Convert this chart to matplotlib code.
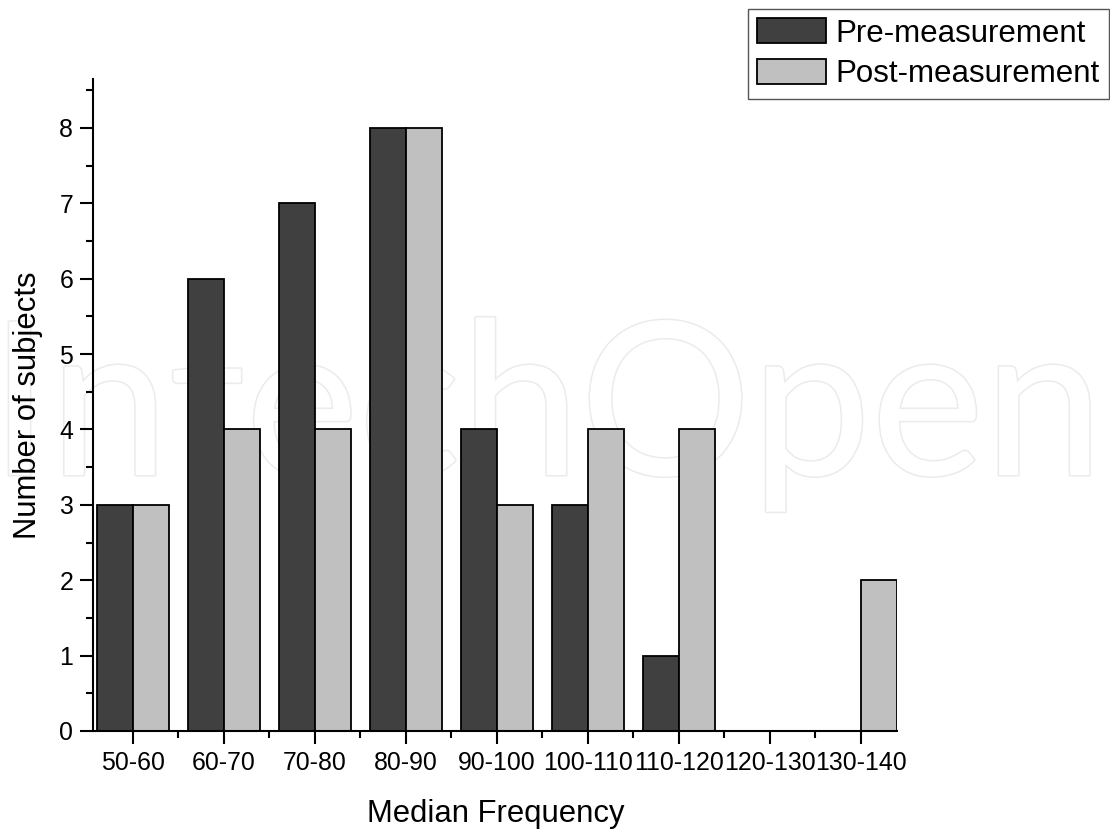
import matplotlib
matplotlib.use("Agg")
import matplotlib.pyplot as plt
import matplotlib.patheffects as pe
from matplotlib.ticker import MultipleLocator, FixedLocator
import numpy as np

plt.rcParams['font.family'] = ['Liberation Sans', 'DejaVu Sans']

categories = ["50-60", "60-70", "70-80", "80-90", "90-100", "100-110",
              "110-120", "120-130", "130-140"]
pre_values = [3, 6, 7, 8, 4, 3, 1, 0, 0]
post_values = [3, 4, 4, 8, 3, 4, 4, 0, 2]
series_labels = ["Pre-measurement", "Post-measurement"]
x_label = "Median Frequency"
y_label = "Number of subjects"
watermark = "IntechOpen"

W, H = 1110, 831
fig = plt.figure(figsize=(W / 100, H / 100), dpi=100)

# axes placement in pixels
left_px, right_px, top_px, bottom_px = 93.3, 897.4, 79, 731
ax = fig.add_axes([left_px / W, 1 - bottom_px / H,
                   (right_px - left_px) / W, (bottom_px - top_px) / H])
ax.patch.set_alpha(0)

# faint outlined watermark
fig.text(0.4925, 1 - 475 / H, watermark, fontsize=154, family=['Lato', 'DejaVu Sans'],
         weight='normal', color='white', ha='center', va='baseline', zorder=-1,
         path_effects=[pe.Stroke(linewidth=2.2, foreground='#ebebeb'), pe.Normal()])

x = np.arange(len(categories))
bw = 0.4
ax.bar(x - bw, pre_values, width=bw, align='edge', color='#404040', edgecolor='black',
       linewidth=1.3, label=series_labels[0])
ax.bar(x, post_values, width=bw, align='edge', color='#c0c0c0', edgecolor='black',
       linewidth=1.3, label=series_labels[1])

ax.set_xlim(-0.436, 8.4)
ax.set_ylim(0, 8.65)

for s in ['top', 'right']:
    ax.spines[s].set_visible(False)
for s in ['left', 'bottom']:
    ax.spines[s].set_linewidth(1.5)

ax.set_xticks(x)
ax.set_xticklabels(categories)
ax.xaxis.set_minor_locator(FixedLocator(x[:-1] + 0.5))
ax.yaxis.set_major_locator(MultipleLocator(1))
ax.yaxis.set_minor_locator(MultipleLocator(0.5))
ax.tick_params(axis='both', which='major', direction='out', length=9.5, width=1.5,
               labelsize=17.9, pad=5)
ax.tick_params(axis='both', which='minor', direction='out', length=5, width=1.5)

ax.set_xlabel(x_label, fontsize=22.3, labelpad=17)
ax.set_ylabel(y_label, fontsize=22.3, labelpad=12)

ax.legend(loc='upper right', bbox_to_anchor=(1109 / W, 1 - 9 / H),
          bbox_transform=fig.transFigure, fancybox=False, edgecolor='#555555',
          framealpha=1, fontsize=22.5, handlelength=2.2, handleheight=0.85,
          handletextpad=0.3, borderpad=0.3, labelspacing=0.33, borderaxespad=0)
ax.get_legend().get_frame().set_linewidth(1.0)

fig.savefig("out.png", dpi=100)
